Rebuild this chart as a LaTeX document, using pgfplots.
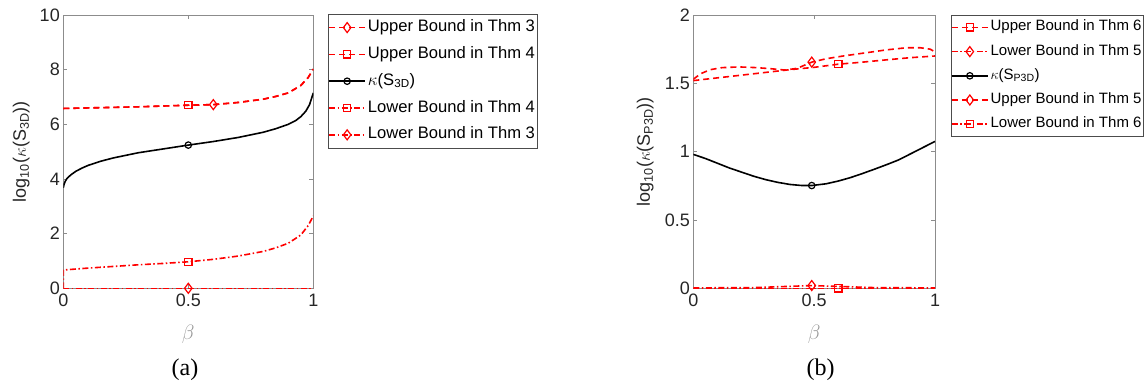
\documentclass[border=0pt]{standalone}
\usepackage{fontspec}
\setmainfont{Liberation Sans}
\newfontfamily\timesf{Liberation Serif}
\usepackage{pgfplots}
\pgfplotsset{compat=1.18}
\definecolor{axgray}{RGB}{140,140,140}
\definecolor{tkgray}{RGB}{38,38,38}
\definecolor{lblgray}{RGB}{150,150,150}
\definecolor{mred}{RGB}{255,0,0}
\tikzset{
  mdash/.style={line width=1.6pt, dash pattern=on 6pt off 4pt},
  mdashdot/.style={line width=1.6pt, dash pattern=on 6pt off 2.5pt on 1.5pt off 2.5pt},
  msolid/.style={line width=1.6pt, solid},
}
\pgfplotsset{
  mybase/.style={
    scale only axis, height=273.3pt,
    axis line style={axgray, line width=0.8pt},
    tick style={axgray, line width=0.8pt},
    major tick length=4pt,
    tick align=inside,
    ticklabel style={font=\fontsize{18}{20}\selectfont, text=tkgray},
    /pgf/number format/assume math mode=true,
    xmin=0, xmax=1,
    xtick={0,0.5,1}, xticklabels={0,0.5,1},
    xlabel={\fontsize{20}{20}\selectfont$\beta$},
    xlabel style={text=lblgray, at={(axis description cs:0.5,0)}, anchor=center, yshift=-46pt},
    xticklabel style={yshift=-2pt},
    legend cell align=left,
    legend image code/.code={\draw[##1,mark indices={2}] plot coordinates {(0pt,0pt) (18pt,0pt) (36pt,0pt)};},
  },
}
\begin{document}
\begin{tikzpicture}
\path[use as bounding box] (0,0) rectangle (1145pt,389pt);
% ---------------- (a)
\begin{axis}[mybase, at={(63.3pt,100.7pt)}, anchor=south west, width=250pt,
  ymin=0, ymax=10, ytick={0,2,4,6,8,10}, yticklabels={0,2,4,6,8,10},
  ylabel={\fontsize{18}{20}\selectfont log\textsubscript{10}($\kappa$(S\textsubscript{3D}))},
  ylabel style={text=tkgray, at={(axis description cs:-0.168,0.5)}, anchor=center},
  legend style={at={(1.059,1.004)}, anchor=north west, draw=black!70, line width=0.6pt,
    inner sep=0pt, font=\fontsize{16.6}{18}\selectfont,
    nodes={inner xsep=2pt, inner ysep=4.4pt, text height=13pt, text depth=5pt}},
]
% Upper Bound Thm 3 (diamond at 0.6)
\addplot[mred, mdash, mark=diamond, mark size=5pt, mark options={solid, line width=1.2pt}, mark indices={7}] coordinates {
(0,6.58) (0.1,6.6) (0.2,6.62) (0.3,6.64) (0.4,6.67) (0.5,6.7) (0.6,6.72) (0.7,6.8) (0.8,6.92) (0.85,7.02) (0.9,7.15) (0.95,7.42) (0.98,7.72) (1.0,8.02)};
\addlegendentry{Upper Bound in Thm 3}
% Upper Bound Thm 4 (square at 0.5)
\addplot[mred, mdash, mark=square, mark size=3.6pt, mark options={solid, line width=1.2pt}, mark indices={6}] coordinates {
(0,6.58) (0.1,6.6) (0.2,6.62) (0.3,6.64) (0.4,6.67) (0.5,6.7) (0.6,6.72) (0.7,6.8) (0.8,6.92) (0.85,7.02) (0.9,7.15) (0.95,7.42) (0.98,7.72) (1.0,8.02)};
\addlegendentry{Upper Bound in Thm 4}
% kappa
\addplot[black, msolid, mark=o, mark size=3.2pt, mark options={solid, line width=1.2pt}, mark indices={13}] coordinates {
(0,3.68) (0.003,3.8) (0.008,3.92) (0.015,4.02) (0.03,4.15) (0.05,4.28) (0.075,4.4) (0.1,4.5) (0.15,4.65) (0.2,4.77) (0.3,4.96) (0.4,5.1) (0.5,5.24) (0.6,5.37) (0.7,5.52) (0.8,5.71) (0.85,5.84) (0.9,6.0) (0.93,6.14) (0.95,6.28) (0.97,6.48) (0.985,6.72) (1.0,7.15)};
\addlegendentry{$\kappa$(S\textsubscript{3D})}
% Lower Bound Thm 4
\addplot[mred, mdashdot, mark=square, mark size=3.6pt, mark options={solid, line width=1.2pt}, mark indices={7}] coordinates {
(0,0) (0,0.67) (0.1,0.74) (0.2,0.8) (0.3,0.86) (0.4,0.91) (0.5,0.97) (0.6,1.06) (0.7,1.18) (0.8,1.35) (0.85,1.48) (0.9,1.65) (0.95,1.95) (0.98,2.3) (1.0,2.65)};
\addlegendentry{Lower Bound in Thm 4}
% Lower Bound Thm 3
\addplot[mred, mdashdot, mark=diamond, mark size=5pt, mark options={solid, line width=1.2pt}, mark indices={2}] coordinates {
(0,0) (0.5,0) (1,0)};
\addlegendentry{Lower Bound in Thm 3}
\end{axis}
% ---------------- (b)
\begin{axis}[mybase, at={(693.3pt,100.7pt)}, anchor=south west, width=241.7pt,
  ymin=0, ymax=2, ytick={0,0.5,1,1.5,2}, yticklabels={0,0.5,1,1.5,2},
  ylabel={\fontsize{18}{20}\selectfont log\textsubscript{10}($\kappa$(S\textsubscript{P3D}))},
  ylabel style={text=tkgray, at={(axis description cs:-0.1986,0.5)}, anchor=center},
  legend style={at={(1.065,1.0)}, anchor=north west, draw=black!70, line width=0.6pt,
    inner sep=0pt, font=\fontsize{15.0}{16}\selectfont,
    nodes={inner xsep=2pt, inner ysep=4pt, text height=11.5pt, text depth=4.7pt}},
]
% Upper Bound Thm 6 (square at 0.6)
\addplot[mred, mdash, mark=square, mark size=3.6pt, mark options={solid, line width=1.2pt}, mark indices={7}] coordinates {
(0,1.52) (0.1,1.54) (0.2,1.56) (0.3,1.58) (0.4,1.6) (0.5,1.617) (0.6,1.64) (0.7,1.655) (0.8,1.672) (0.9,1.688) (1.0,1.70)};
\addlegendentry{Upper Bound in Thm 6}
% Lower Bound Thm 5 (diamond at 0.49)
\addplot[mred, mdashdot, mark=diamond, mark size=5pt, mark options={solid, line width=1.2pt}, mark indices={3}] coordinates {
(0,0.003) (0.25,0.005) (0.49,0.02) (0.75,0.005) (1,0.003)};
\addlegendentry{Lower Bound in Thm 5}
% kappa
\addplot[black, msolid, mark=o, mark size=3.2pt, mark options={solid, line width=1.2pt}, mark indices={11}] coordinates {
(0,0.98) (0.05,0.95) (0.1,0.915) (0.15,0.88) (0.2,0.85) (0.25,0.82) (0.3,0.795) (0.35,0.775) (0.4,0.76) (0.45,0.752) (0.49,0.752) (0.55,0.765) (0.6,0.785) (0.65,0.81) (0.7,0.84) (0.75,0.872) (0.8,0.905) (0.85,0.94) (0.9,0.985) (0.95,1.03) (1.0,1.075)};
\addlegendentry{$\kappa$(S\textsubscript{P3D})}
% Upper Bound Thm 5 (diamond at 0.49)
\addplot[mred, mdash, mark=diamond, mark size=5pt, mark options={solid, line width=1.2pt}, mark indices={10}] coordinates {
(0,1.53) (0.03,1.57) (0.07,1.6) (0.12,1.615) (0.19,1.62) (0.26,1.615) (0.32,1.607) (0.38,1.597) (0.43,1.61) (0.49,1.655) (0.55,1.68) (0.62,1.7) (0.7,1.72) (0.8,1.745) (0.88,1.76) (0.94,1.76) (0.98,1.75) (1.0,1.73)};
\addlegendentry{Upper Bound in Thm 5}
% Lower Bound Thm 6 (square at 0.6)
\addplot[mred, mdashdot, mark=square, mark size=3.6pt, mark options={solid, line width=1.2pt}, mark indices={2}] coordinates {
(0,0) (0.6,0) (1,0)};
\addlegendentry{Lower Bound in Thm 6}
\end{axis}
\node[font=\timesf\fontsize{24}{26}\selectfont, text=black] at (185pt,19pt) {(a)};
\node[font=\timesf\fontsize{24}{26}\selectfont, text=black] at (820.7pt,19pt) {(b)};
\end{tikzpicture}
\end{document}
